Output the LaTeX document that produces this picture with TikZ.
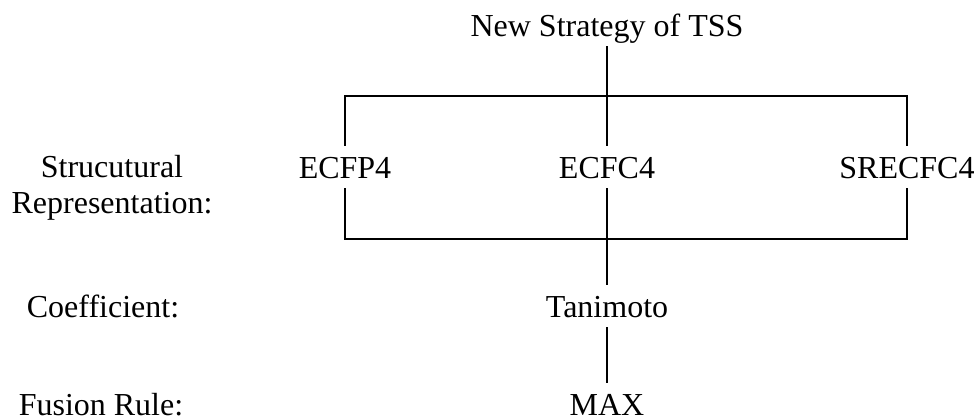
\documentclass[tikz,border=0pt]{standalone}
\usepackage{fontspec}
\setmainfont{Liberation Serif}

\begin{document}
\begin{tikzpicture}[
    x=0.5pt, y=-0.5pt,
    every node/.style = {font=\fontsize{16}{18}\selectfont, anchor=base},
    item/.style = {text height=11pt, text depth=0pt, inner xsep=2pt, inner ysep=5pt},
    side/.style = {align=center, inner sep=0pt},
    link/.style = {line width=0.7pt}
]
    \useasboundingbox (0,0) rectangle (980,419);

    \node[item] (tss) at (607,36) {New Strategy of TSS};

    \node[item] (ecfp) at (345,178) {ECFP4};
    \node[item] (ecfc) at (607,178) {ECFC4};
    \node[item] (srecfc) at (907,178) {SRECFC4};

    \node[item] (tani) at (607,317) {Tanimoto};
    \node[item] (max) at (607,415) {MAX};

    \node[side] (rep) at (112,213) {Strucutural\\Representation:};
    \node[side] (coef) at (103,317) {Coefficient:};
    \node[side] (rule) at (101,415) {Fusion Rule:};

    \coordinate (up) at (607,96);
    \coordinate (down) at (607,239);

    \draw[link] (tss) -- (up);
    \draw[link] (ecfp) |- (up) -| (srecfc);
    \draw[link] (ecfc) -- (up);
    \draw[link] (ecfp) |- (down) -| (srecfc);
    \draw[link] (ecfc) -- (down) -- (tani);
    \draw[link] (tani) -- (max);
\end{tikzpicture}
\end{document}
